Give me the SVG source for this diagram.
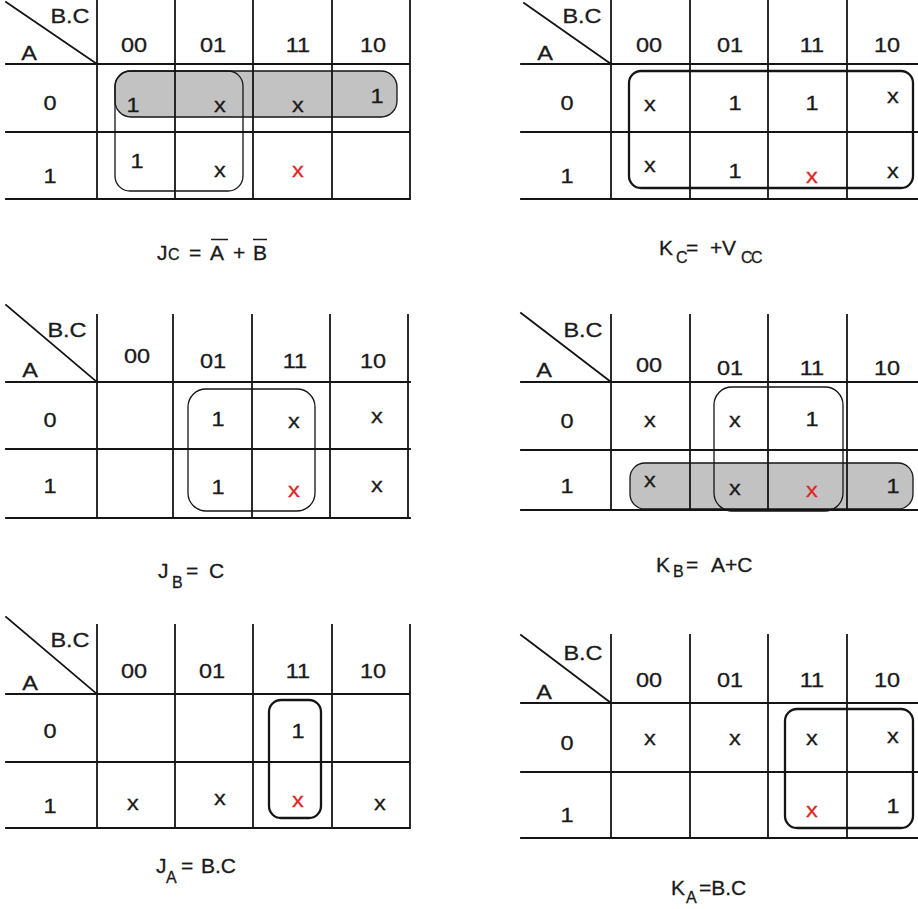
<svg xmlns="http://www.w3.org/2000/svg" width="918" height="909" viewBox="0 0 918 909">
<style>
.g{stroke:#151515;stroke-width:1.8;fill:none;stroke-linecap:square}
.t{font-family:"Liberation Sans",Arial,sans-serif;font-size:21px;fill:#1a1a1a;stroke:#1a1a1a;stroke-width:0.3;text-anchor:middle;transform-box:fill-box;transform-origin:center;transform:scaleX(1.12)}
.r{fill:#e02424;stroke:#e02424}
.lab{font-family:"Liberation Sans",Arial,sans-serif;font-size:21px;fill:#1a1a1a;stroke:#1a1a1a;stroke-width:0.3}
.sub{font-size:16px}
.shade{fill:#c2c2c2;stroke:none}
.lt{fill:none;stroke:#151515;stroke-width:1.3}
.lk{fill:none;stroke:#151515;stroke-width:2.3}
</style>
<rect width="918" height="909" fill="#ffffff"/>

<g id="map-jc">
<rect class="shade" x="115" y="71" width="282" height="46" rx="16"/>
<path class="g" d="M6 64H410M6 132H410M6 199H410M97 0V199M175 0V199M253 0V199M332 0V199M410 0V199M6 2L97 64"/>
<rect class="lt" x="115" y="71" width="282" height="46" rx="16" stroke-width="1.8"/>
<rect class="lt" x="115" y="71" width="128" height="120" rx="15"/>
<text class="t" x="70" y="23">B.C</text><text class="t" x="29" y="60">A</text>
<text class="t" x="134" y="52">00</text><text class="t" x="213" y="52">01</text><text class="t" x="298" y="52">11</text><text class="t" x="373" y="52">10</text>
<text class="t" x="50" y="110">0</text><text class="t" x="50" y="183">1</text>
<text class="t" x="133" y="112">1</text><text class="t" x="220" y="112">x</text><text class="t" x="298" y="112">x</text><text class="t" x="377" y="103">1</text>
<text class="t" x="137" y="168">1</text><text class="t" x="220" y="177">x</text><text class="t r" x="298" y="177">x</text>
</g>

<g id="map-kc">
<path class="g" d="M521 64H918M521 132H918M521 199H918M611 0V199M690 0V199M768 0V199M847 0V199M524 3L611 64"/>
<rect class="lk" x="629" y="71" width="284" height="117" rx="12"/>
<text class="t" x="582" y="23">B.C</text><text class="t" x="545" y="60">A</text>
<text class="t" x="649" y="52">00</text><text class="t" x="730" y="52">01</text><text class="t" x="812" y="52">11</text><text class="t" x="887" y="52">10</text>
<text class="t" x="567" y="110">0</text><text class="t" x="567" y="183">1</text>
<text class="t" x="650" y="111">x</text><text class="t" x="735" y="110">1</text><text class="t" x="812" y="110">1</text><text class="t" x="893" y="103">x</text>
<text class="t" x="650" y="172">x</text><text class="t" x="735" y="178">1</text><text class="t r" x="812" y="183">x</text><text class="t" x="893" y="178">x</text>
</g>

<g id="map-jb">
<path class="g" d="M6 382H410M6 449H410M6 518H410M97 315V518M173 315V518M252 315V518M330 315V518M408 315V518M6 305L97 382"/>
<rect class="lt" x="188" y="389" width="127" height="122" rx="18"/>
<text class="t" x="67" y="337">B.C</text><text class="t" x="30" y="377">A</text>
<text class="t" x="137" y="363">00</text><text class="t" x="213" y="368">01</text><text class="t" x="295" y="368">11</text><text class="t" x="373" y="368">10</text>
<text class="t" x="50" y="427">0</text><text class="t" x="50" y="493">1</text>
<text class="t" x="218" y="426">1</text><text class="t" x="294" y="428">x</text><text class="t" x="377" y="423">x</text>
<text class="t" x="218" y="494">1</text><text class="t r" x="294" y="497">x</text><text class="t" x="377" y="492">x</text>
</g>

<g id="map-kb">
<rect class="shade" x="630" y="463" width="283" height="46" rx="15"/>
<path class="g" d="M521 382H918M521 450H918M521 510H918M611 315V510M690 315V510M768 315V510M847 315V510M521 313L611 382"/>
<rect class="lt" x="630" y="463" width="283" height="46" rx="15" stroke-width="1.8"/>
<rect class="lt" x="714" y="387" width="129" height="124" rx="18"/>
<text class="t" x="583" y="337">B.C</text><text class="t" x="544" y="377">A</text>
<text class="t" x="649" y="372">00</text><text class="t" x="730" y="375">01</text><text class="t" x="812" y="375">11</text><text class="t" x="887" y="375">10</text>
<text class="t" x="567" y="428">0</text><text class="t" x="567" y="493">1</text>
<text class="t" x="650" y="427">x</text><text class="t" x="735" y="427">x</text><text class="t" x="812" y="426">1</text>
<text class="t" x="650" y="487">x</text><text class="t" x="735" y="495">x</text><text class="t r" x="812" y="497">x</text><text class="t" x="893" y="493">1</text>
</g>

<g id="map-ja">
<path class="g" d="M6 694H410M6 762H410M6 828H410M97 625V828M175 625V828M253 625V828M332 625V828M410 625V828M6 617L97 694"/>
<rect class="lk" x="269" y="700" width="52" height="118" rx="12"/>
<text class="t" x="70" y="647">B.C</text><text class="t" x="30" y="690">A</text>
<text class="t" x="134" y="678">00</text><text class="t" x="212" y="678">01</text><text class="t" x="298" y="678">11</text><text class="t" x="373" y="678">10</text>
<text class="t" x="50" y="738">0</text><text class="t" x="50" y="813">1</text>
<text class="t" x="298" y="738">1</text>
<text class="t" x="133" y="810">x</text><text class="t" x="220" y="805">x</text><text class="t r" x="298" y="807">x</text><text class="t" x="380" y="810">x</text>
</g>

<g id="map-ka">
<path class="g" d="M521 703H918M521 772H918M521 838H918M611 635V838M690 635V838M768 635V838M847 635V838M521 635L611 703"/>
<rect class="lk" x="785" y="709" width="128" height="119" rx="12"/>
<text class="t" x="583" y="660">B.C</text><text class="t" x="544" y="699">A</text>
<text class="t" x="649" y="687">00</text><text class="t" x="730" y="687">01</text><text class="t" x="812" y="687">11</text><text class="t" x="887" y="687">10</text>
<text class="t" x="567" y="750">0</text><text class="t" x="567" y="822">1</text>
<text class="t" x="650" y="745">x</text><text class="t" x="735" y="745">x</text><text class="t" x="812" y="745">x</text><text class="t" x="893" y="743">x</text>
<text class="t r" x="812" y="817">x</text><text class="t" x="893" y="813">1</text>
</g>

<g id="eq-jc">
<text class="lab" y="260"><tspan x="157">J</tspan><tspan class="sub" x="168">C</tspan><tspan x="189">=</tspan><tspan x="210">A</tspan><tspan x="233">+</tspan><tspan x="253">B</tspan></text>
<path d="M211 239.5H228M253 239.5H267" stroke="#1a1a1a" stroke-width="1.6"/>
</g>
<g id="eq-kc">
<text class="lab" y="255"><tspan x="659">K</tspan><tspan class="sub" x="676" y="263">C</tspan><tspan x="686" y="255">=</tspan><tspan x="710">+</tspan><tspan x="722">V</tspan><tspan class="sub" x="741" y="263" letter-spacing="-1.5">CC</tspan></text>
</g>
<g id="eq-jb">
<text class="lab" y="578"><tspan x="158">J</tspan><tspan class="sub" x="172" y="588">B</tspan><tspan x="186" y="578">=</tspan><tspan x="209">C</tspan></text>
</g>
<g id="eq-kb">
<text class="lab" y="572"><tspan x="656">K</tspan><tspan class="sub" x="673" y="577">B</tspan><tspan x="686" y="572">=</tspan><tspan x="711">A+C</tspan></text>
</g>
<g id="eq-ja">
<text class="lab" y="873"><tspan x="156">J</tspan><tspan class="sub" x="166" y="883">A</tspan><tspan x="181" y="873">=</tspan><tspan x="201">B.C</tspan></text>
</g>
<g id="eq-ka">
<text class="lab" y="895"><tspan x="671">K</tspan><tspan class="sub" x="686" y="903">A</tspan><tspan x="699" y="895">=B.C</tspan></text>
</g>
</svg>
